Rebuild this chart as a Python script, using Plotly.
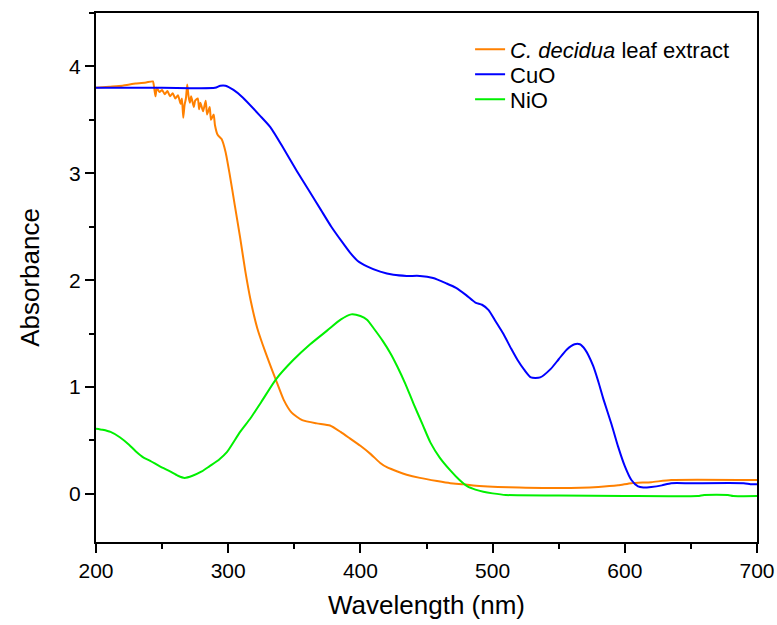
import plotly.graph_objects as go

# UV-Vis absorbance spectra
wl_extract = [200, 210, 220, 230, 238, 243, 244, 245, 246, 248, 250, 252, 254, 256, 258,
              260, 262, 264, 265, 266, 267, 268, 269, 270, 271, 272, 274, 275, 277, 278,
              279, 281, 283, 284, 286, 287, 289, 290, 292, 295, 298, 301, 305, 309, 313,
              317, 322, 326, 331, 336, 342, 348, 356, 367, 377, 385, 392, 400, 408, 415,
              420, 428, 435, 445, 458, 468, 478, 490, 504, 520, 551, 580, 595, 605, 620,
              635, 700]
abs_extract = [3.80, 3.81, 3.82, 3.84, 3.85, 3.86, 3.80, 3.72, 3.80, 3.76, 3.78, 3.74, 3.77, 3.72, 3.75,
               3.70, 3.73, 3.65, 3.70, 3.52, 3.64, 3.70, 3.83, 3.72, 3.66, 3.72, 3.62, 3.68, 3.70, 3.60,
               3.66, 3.58, 3.68, 3.55, 3.62, 3.50, 3.55, 3.45, 3.36, 3.32, 3.20, 3.00, 2.70, 2.40, 2.08,
               1.81, 1.55, 1.40, 1.23, 1.07, 0.88, 0.76, 0.69, 0.66, 0.64, 0.58, 0.52, 0.45, 0.37, 0.29,
               0.25, 0.21, 0.18, 0.15, 0.12, 0.10, 0.09, 0.075, 0.065, 0.06, 0.055, 0.065, 0.08, 0.10, 0.11,
               0.13, 0.13]

wl_cuo = [200, 250, 290, 294, 298, 304, 311, 324, 332, 342, 352, 362, 370, 378, 386,
          392, 398, 405, 415, 425, 435, 445, 455, 465, 472, 480, 487, 492, 497, 502,
          508, 514, 519, 524, 529, 536, 544, 550, 556, 562, 566, 570, 576, 580, 584,
          590, 595, 600, 605, 610, 614, 620, 628, 635, 650, 690, 695, 700]
abs_cuo = [3.80, 3.80, 3.80, 3.82, 3.82, 3.78, 3.71, 3.54, 3.43, 3.23, 3.02, 2.82, 2.66, 2.50, 2.36,
           2.26, 2.18, 2.13, 2.08, 2.05, 2.04, 2.04, 2.02, 1.97, 1.93, 1.86, 1.79, 1.77, 1.72, 1.62,
           1.50, 1.36, 1.25, 1.16, 1.09, 1.09, 1.17, 1.26, 1.35, 1.40, 1.40, 1.35, 1.20, 1.05, 0.88,
           0.65, 0.44, 0.26, 0.13, 0.07, 0.06, 0.065, 0.08, 0.10, 0.10, 0.10, 0.09, 0.09]

wl_nio = [200, 205, 211, 218, 225, 230, 236, 241, 248, 256, 262, 267, 273, 280, 286, 293,
          299, 309, 317, 325, 336, 349, 362, 375, 385, 393, 400, 405, 410, 417, 423,
          428, 434, 440, 447, 453, 460, 468, 475, 481, 487, 493, 500, 510, 550, 600,
          655, 660, 678, 682, 700]
abs_nio = [0.61, 0.60, 0.58, 0.53, 0.46, 0.40, 0.34, 0.31, 0.26, 0.21, 0.17, 0.15, 0.17, 0.21, 0.26, 0.32,
           0.39, 0.58, 0.71, 0.86, 1.07, 1.25, 1.40, 1.53, 1.63, 1.68, 1.665, 1.63, 1.55, 1.43, 1.31,
           1.19, 1.03, 0.85, 0.65, 0.48, 0.34, 0.22, 0.13, 0.07, 0.04, 0.02, 0.005, -0.01, -0.015, -0.02,
           -0.02, -0.01, -0.01, -0.02, -0.02]

x_ticks = [200, 300, 400, 500, 600, 700]
y_ticks = [0, 1, 2, 3, 4]

FONT = "Liberation Sans, Arial, sans-serif"

series = [
    ("<i>C. decidua</i> leaf extract", wl_extract, abs_extract, "rgb(255,128,0)", 0.5, "legend"),
    ("CuO", wl_cuo, abs_cuo, "rgb(0,0,255)", 0.6, "legend2"),
    ("NiO", wl_nio, abs_nio, "rgb(0,240,0)", 0.6, "legend3"),
]

fig = go.Figure()
for name, xs, ys, color, smooth, leg in series:
    fig.add_trace(go.Scatter(x=xs, y=ys, mode="lines", name=name, legend=leg,
                             line=dict(color=color, width=2, shape="spline", smoothing=smooth)))

axis_common = dict(
    showline=True, linecolor="black", linewidth=2, mirror=True,
    ticks="outside", ticklen=9, tickwidth=2, tickcolor="black",
    showgrid=False, zeroline=False,
    tickfont=dict(family=FONT, size=21, color="black"),
)

fig.update_xaxes(range=[200, 700], tickvals=x_ticks,
                 minor=dict(dtick=50, ticks="outside", ticklen=5, tickwidth=2, tickcolor="black"),
                 title=dict(text="Wavelength (nm)", font=dict(family=FONT, size=26, color="black"),
                            standoff=15),
                 **axis_common)
fig.update_yaxes(range=[-0.45, 4.5], tickvals=y_ticks,
                 minor=dict(dtick=0.5, ticks="outside", ticklen=5, tickwidth=2, tickcolor="black"),
                 title=dict(text="Absorbance", font=dict(family=FONT, size=26, color="black"),
                            standoff=22),
                 **axis_common)

# one legend per series, placed relative to the whole figure
legend_style = dict(x=0.605, xref="container", yref="container",
                    xanchor="left", yanchor="middle",
                    bgcolor="rgba(0,0,0,0)", borderwidth=0,
                    font=dict(family=FONT, size=22, color="black"))

fig.update_layout(
    width=777, height=625,
    margin=dict(l=96, r=20, t=13, b=83, autoexpand=False),
    paper_bgcolor="white", plot_bgcolor="white",
    showlegend=True,
    legend=dict(y=0.921, **legend_style),
    legend2=dict(y=0.881, **legend_style),
    legend3=dict(y=0.841, **legend_style),
)

fig.write_html("out.html")
